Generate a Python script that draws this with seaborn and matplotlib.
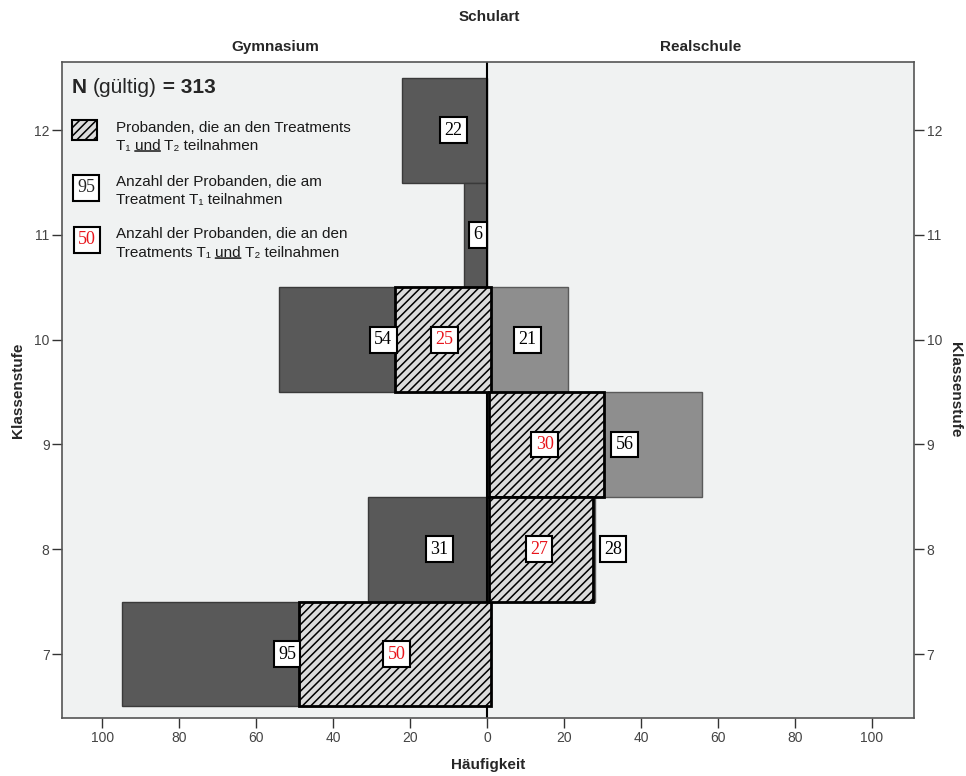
#!/usr/bin/env python3
"""
Bevoelkerungspyramide: Klassenstufe nach Schulart mit Treatment-Teilnahme.
"""

import pandas as pd
import matplotlib
matplotlib.use("Agg")
import matplotlib.pyplot as plt
from matplotlib.patches import Rectangle
from matplotlib.ticker import FuncFormatter
import seaborn as sns

# Daten
grades = [7, 8, 9, 10, 11, 12]
gym_t1 = [95, 31, 0, 54, 6, 22]
gym_t1t2 = [50, 0, 0, 25, 0, 0]
real_t1 = [0, 28, 56, 21, 0, 0]
real_t1t2 = [0, 27, 30, 0, 0, 0]
n_valid = 313
x_ticks = [-100, -80, -60, -40, -20, 0, 20, 40, 60, 80, 100]

DARK = "#595959"
LIGHT = "#8e8e8e"
HATCH_FILL = "#dcdcdc"
BG = "#f0f2f2"
SANS = ["Liberation Sans", "DejaVu Sans"]
SERIF = ["Liberation Serif", "DejaVu Serif"]
HATCH = "////"


def build_frame():
    """Long-form table, Gymnasium nach links (negativ)."""
    rows = []
    for g, a, b, c, d in zip(grades, gym_t1, gym_t1t2, real_t1, real_t1t2):
        rows.append((g, "Gymnasium", "T1", -a))
        rows.append((g, "Gymnasium", "T1T2", -b))
        rows.append((g, "Realschule", "T1", c))
        rows.append((g, "Realschule", "T1T2", d))
    df = pd.DataFrame(rows, columns=["Klassenstufe", "Schulart", "Gruppe", "Anzahl"])
    return df[df["Anzahl"] != 0]


def value_box(ax, x, y, text, color="black"):
    ax.text(x, y, text, ha="center", va="center", fontsize=13, family=SERIF,
            color=color, zorder=6,
            bbox=dict(boxstyle="square,pad=0.24", fc="white", ec="black", lw=1.5))


def underlined_line(ax, x, y, parts, fontsize=11):
    """Eine Textzeile aus Teilen, Teile mit True werden unterstrichen."""
    prev = None
    for txt, under in parts:
        if prev is None:
            t = ax.text(x, y, txt, transform=ax.transAxes, ha="left", va="center",
                        fontsize=fontsize, family=SANS, color="#1a1a1a", zorder=6)
        else:
            t = ax.annotate(txt, xy=(1, 0), xycoords=prev, ha="left", va="bottom",
                            fontsize=fontsize, family=SANS, color="#1a1a1a", zorder=6)
        if under:
            ax.annotate("", xy=(0, 0.14), xycoords=t, xytext=(1, 0.14), textcoords=t,
                        arrowprops=dict(arrowstyle="-", lw=1, color="black",
                                        shrinkA=0, shrinkB=0))
        prev = t
    return prev


def main():
    sns.set_theme(style="white")
    plt.rcParams["font.family"] = SANS
    plt.rcParams["hatch.linewidth"] = 1.1

    df = build_frame()
    order = grades[::-1]

    fig = plt.figure(figsize=(9.66, 7.76), dpi=100)
    ax = fig.add_axes([62 / 966, 1 - 718 / 776, 852 / 966, 656 / 776])
    ax.set_facecolor(BG)

    t1 = df[df["Gruppe"] == "T1"]
    sns.barplot(data=t1[t1["Schulart"] == "Gymnasium"], x="Anzahl", y="Klassenstufe",
                order=order, orient="h", color=DARK, saturation=1, width=1,
                errorbar=None, edgecolor="#3a3a3a", linewidth=1, ax=ax)
    sns.barplot(data=t1[t1["Schulart"] == "Realschule"], x="Anzahl", y="Klassenstufe",
                order=order, orient="h", color=LIGHT, saturation=1, width=1,
                errorbar=None, edgecolor="#5a5a5a", linewidth=1, ax=ax)

    # schraffierte Balken (T1 und T2), leicht versetzt wie im Original
    t12 = df[df["Gruppe"] == "T1T2"]
    for schule, shift in [("Gymnasium", 1.0), ("Realschule", 0.5)]:
        n_before = len(ax.patches)
        sns.barplot(data=t12[t12["Schulart"] == schule], x="Anzahl", y="Klassenstufe",
                    order=order, orient="h", color=HATCH_FILL, saturation=1, width=1,
                    errorbar=None, edgecolor="black", linewidth=2, ax=ax)
        for p in ax.patches[n_before:]:
            p.set_hatch(HATCH)
            p.set_x(p.get_x() + shift)
            p.set_zorder(3)

    ax.axvline(0, color="black", lw=1.5, zorder=2.5)

    # Wertelabels
    for g, a, b, c, d in zip(grades, gym_t1, gym_t1t2, real_t1, real_t1t2):
        pos = order.index(g)
        if a:
            value_box(ax, -(b + 2.0) if b else -a * 0.4, pos, str(a))
        if b:
            value_box(ax, -b / 2 + 1.5, pos, str(b), color="#e8141b")
        if c:
            value_box(ax, (d + 5.8) if d else c / 2, pos, str(c))
        if d:
            value_box(ax, d / 2, pos, str(d), color="#e8141b")

    # Achsen
    ax.set_xlim(-110.5, 111)
    ax.set_ylim(5.61, -0.65)
    ax.set_xticks(x_ticks)
    ax.xaxis.set_major_formatter(FuncFormatter(lambda v, _: f"{abs(v):.0f}"))
    ax.set_yticks(range(len(order)))
    ax.set_yticklabels([str(g) for g in order])
    ax.tick_params(axis="both", direction="out", length=7, width=1, color="#333333",
                   labelsize=10, labelcolor="#444444", pad=2)
    ax.tick_params(axis="y", right=True, labelright=True, left=True, labelleft=True)
    ax.tick_params(axis="x", bottom=True)
    for s in ax.spines.values():
        s.set_color("#555555")
        s.set_linewidth(1.2)
    ax.set_xlabel("")
    ax.set_ylabel("")

    fig.text(488 / 966, 1 - 765 / 776, "Häufigkeit", ha="center", va="center",
             fontsize=11, fontweight="bold")
    fig.text(18 / 966, 1 - 390 / 776, "Klassenstufe", ha="center", va="center",
             rotation=90, fontsize=11, fontweight="bold")
    fig.text(955 / 966, 1 - 390 / 776, "Klassenstufe", ha="center", va="center",
             rotation=270, fontsize=11, fontweight="bold")
    fig.text(489 / 966, 1 - 17 / 776, "Schulart", ha="center", va="center",
             fontsize=11, fontweight="bold")
    fig.text(275 / 966, 1 - 47 / 776, "Gymnasium", ha="center", va="center",
             fontsize=11, fontweight="bold")
    fig.text(701 / 966, 1 - 47 / 776, "Realschule", ha="center", va="center",
             fontsize=11, fontweight="bold")

    # Legende oben links
    t = ax.text(0.0117, 0.9604, "N ", transform=ax.transAxes, ha="left", va="center",
                fontsize=15, fontweight="bold", zorder=6)
    t = ax.annotate("(gültig)", xy=(1, 0), xycoords=t, ha="left", va="bottom",
                    fontsize=15, zorder=6)
    ax.annotate(" = " + str(n_valid), xy=(1, 0), xycoords=t, ha="left", va="bottom",
                fontsize=15, fontweight="bold", zorder=6)

    ax.add_patch(Rectangle((0.0117, 0.881), 0.0293, 0.0305, transform=ax.transAxes,
                           facecolor=HATCH_FILL, edgecolor="black", lw=1.5,
                           hatch=HATCH, zorder=6))
    tx = 0.0634
    underlined_line(ax, tx, 0.8994, [("Probanden, die an den Treatments", False)])
    underlined_line(ax, tx, 0.8720, [("T\u2081 ", False), ("und", True),
                                     (" T\u2082 teilnahmen", False)])

    ax.text(0.0282, 0.808, "95", transform=ax.transAxes, ha="center", va="center",
            fontsize=13, family=SERIF, zorder=6,
            bbox=dict(boxstyle="square,pad=0.24", fc="white", ec="black", lw=1.5))
    underlined_line(ax, tx, 0.8171, [("Anzahl der Probanden, die am", False)])
    underlined_line(ax, tx, 0.7896, [("Treatment T\u2081 teilnahmen", False)])

    ax.text(0.0293, 0.7287, "50", transform=ax.transAxes, ha="center", va="center",
            fontsize=13, family=SERIF, color="#e8141b", zorder=6,
            bbox=dict(boxstyle="square,pad=0.24", fc="white", ec="black", lw=1.5))
    underlined_line(ax, tx, 0.7378, [("Anzahl der Probanden, die an den", False)])
    underlined_line(ax, tx, 0.7088, [("Treatments T\u2081 ", False), ("und", True),
                                     (" T\u2082 teilnahmen", False)])

    fig.savefig("out.png", dpi=100, facecolor="white")


if __name__ == "__main__":
    main()
